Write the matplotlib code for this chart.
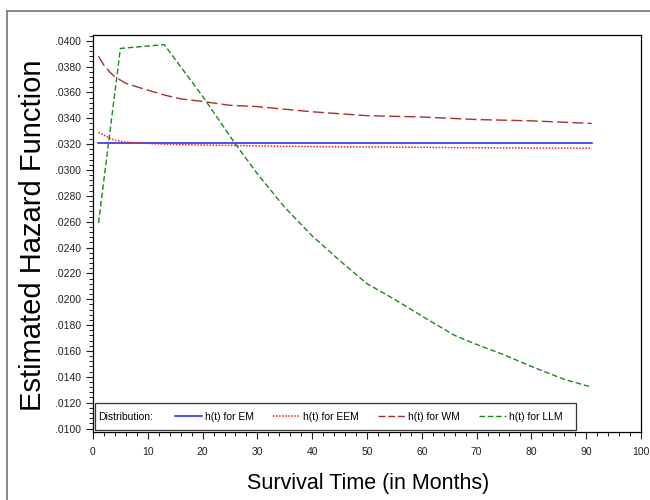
import numpy as np
import matplotlib.pyplot as plt
from matplotlib.lines import Line2D
from matplotlib.patches import Rectangle
from matplotlib.ticker import MultipleLocator, AutoMinorLocator, FuncFormatter

plt.rcParams["font.family"] = ["Liberation Sans", "DejaVu Sans"]

# survival time (months) and estimated hazard per model
t_smooth = [1, 2, 3, 4, 6, 9, 13, 16, 20, 25, 30, 40, 50, 60, 70, 80, 91]
h_em = [0.03205] * len(t_smooth)
h_eem = [0.0329, 0.0327, 0.03245, 0.0323, 0.03215, 0.03207, 0.03200, 0.03196,
         0.03193, 0.03190, 0.03186, 0.03181, 0.03178, 0.03175, 0.03172, 0.03170, 0.03168]
h_wm = [0.0388, 0.0381, 0.0376, 0.0372, 0.0367, 0.0363, 0.0358, 0.0355,
        0.0353, 0.0350, 0.0349, 0.0345, 0.0342, 0.0341, 0.0339, 0.0338, 0.0336]

t_llm = [1, 5, 13, 20, 26, 30, 35, 40, 45, 50, 55, 60, 66, 70, 75, 80, 86, 91]
h_llm = [0.0259, 0.0394, 0.0397, 0.0357, 0.0320, 0.0297, 0.0271, 0.0249, 0.0230,
         0.0212, 0.0200, 0.0187, 0.0172, 0.0165, 0.0157, 0.0148, 0.0138, 0.0132]

labels = ["h(t) for EM", "h(t) for EEM", "h(t) for WM", "h(t) for LLM"]
colors = ["#1f1fe0", "#ff2020", "#a83030", "#1a8a1a"]

fig = plt.figure(figsize=(6.5, 5), dpi=100)
ax = fig.add_axes([93 / 650, 1 - 432 / 500, 548 / 650, 397 / 500])

ax.plot(t_smooth, h_em, color=colors[0], lw=1.1, ls="-")
ax.plot(t_smooth, h_eem, color=colors[1], lw=1.1, ls=(0, (1, 1)))
ax.plot(t_smooth, h_wm, color=colors[2], lw=1.0, ls=(0, (8, 3)))
ax.plot(t_llm, h_llm, color=colors[3], lw=1.0, ls=(0, (4, 2)))

ax.set_xlim(0, 100)
ax.set_ylim(0.00973, 0.04044)
ax.xaxis.set_major_locator(MultipleLocator(10))
ax.xaxis.set_minor_locator(AutoMinorLocator(5))
ax.yaxis.set_major_locator(MultipleLocator(0.002))
ax.yaxis.set_minor_locator(AutoMinorLocator(5))
ax.yaxis.set_major_formatter(FuncFormatter(lambda v, p: ("%.4f" % v).lstrip("0")))
ax.tick_params(which="major", direction="out", length=5, width=0.8, labelsize=7.5, colors="#222222")
ax.tick_params(which="minor", direction="out", length=3, width=0.6)
ax.tick_params(axis="x", pad=6)
for s in ax.spines.values():
    s.set_linewidth(0.9)

# legend box along the bottom of the plot
ax.add_patch(Rectangle((0.004, 0.006), 0.878, 0.066, transform=ax.transAxes,
                       fill=False, lw=0.9, edgecolor="#333333"))
ax.text(0.01, 0.039, "Distribution:", transform=ax.transAxes, fontsize=7.5,
        va="center", ha="left")
handles = [
    Line2D([], [], color=colors[0], lw=1.1, ls="-"),
    Line2D([], [], color=colors[1], lw=1.1, ls=(0, (1, 1))),
    Line2D([], [], color=colors[2], lw=1.0, ls=(0, (5, 2))),
    Line2D([], [], color=colors[3], lw=1.0, ls=(0, (4, 2))),
]
ax.legend(handles, labels, ncol=4, loc="center left", bbox_to_anchor=(0.15, 0.039),
          frameon=False, fontsize=7.5, handlelength=2.6, handletextpad=0.3,
          columnspacing=1.8, borderpad=0, borderaxespad=0)

fig.text(33 / 650, 1 - 235 / 500, "Estimated Hazard Function", rotation=90,
         fontsize=21, ha="center", va="center")
fig.text(368 / 650, 1 - 483 / 500, "Survival Time (in Months)", fontsize=15.5,
         ha="center", va="center")

# outer frame of the graph area
fig.add_artist(Line2D([7 / 650, 1], [1 - 11 / 500, 1 - 11 / 500], color="#808080", lw=1.3))
fig.add_artist(Line2D([7 / 650, 7 / 650], [0, 1 - 11 / 500], color="#808080", lw=1.3))

fig.savefig("out.png", dpi=100)
